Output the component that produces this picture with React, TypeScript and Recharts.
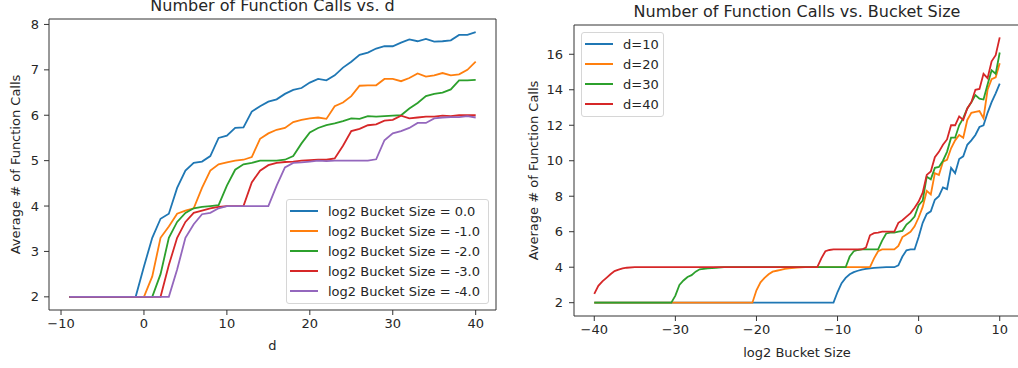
import { LineChart, Line, XAxis, YAxis, Legend, ReferenceLine } from 'recharts'

const FONT = '"DejaVu Sans", sans-serif'
const INK = '#262626'
const COLORS = ['#1f77b4', '#ff7f0e', '#2ca02c', '#d62728', '#9467bd']

// left chart: average calls vs d, one line per log2 bucket size
const dValues = [
  -9, -8, -7, -6, -5, -4, -3, -2, -1, 0, 1, 2, 3, 4, 5, 6, 7, 8, 9, 10, 11, 12, 13, 14, 15, 16, 17, 18, 19, 20,
  21, 22, 23, 24, 25, 26, 27, 28, 29, 30, 31, 32, 33, 34, 35, 36, 37, 38, 39, 40,
]
const callsBs0 = [
  2, 2, 2, 2, 2, 2, 2, 2, 2,
  2.67, 3.3, 3.72, 3.83, 4.4, 4.78, 4.95, 4.98, 5.1, 5.5,
  5.55, 5.72, 5.73, 6.08, 6.2, 6.3, 6.35, 6.47, 6.56, 6.6,
  6.72, 6.8, 6.77, 6.88, 7.05, 7.18, 7.33, 7.38, 7.47, 7.52,
  7.52, 7.6, 7.67, 7.63, 7.68, 7.62, 7.63, 7.65, 7.77, 7.77,
  7.83,
]
const callsBsM1 = [
  2, 2, 2, 2, 2, 2, 2, 2, 2, 2,
  2.45, 3.3, 3.55, 3.83, 3.9, 3.95, 4.4, 4.78, 4.92,
  4.96, 5.0, 5.02, 5.08, 5.48, 5.6, 5.68, 5.72, 5.85, 5.9,
  5.93, 5.95, 5.92, 6.2, 6.28, 6.42, 6.65, 6.66, 6.66, 6.8,
  6.8, 6.75, 6.82, 6.92, 6.85, 6.88, 6.93, 6.88, 6.9, 7.0,
  7.18,
]
const callsBsM2 = [
  2, 2, 2, 2, 2, 2, 2, 2, 2, 2, 2,
  2.5, 3.3, 3.65, 3.85, 3.95, 3.98, 4.0, 4.02,
  4.45, 4.8, 4.92, 4.95, 5.0, 5.0, 5.0, 5.02, 5.1, 5.38,
  5.62, 5.72, 5.78, 5.82, 5.87, 5.93, 5.92, 5.98, 5.97, 5.98,
  5.99, 6.0, 6.15, 6.27, 6.42, 6.47, 6.5, 6.57, 6.77, 6.77,
  6.78,
]
const callsBsM3 = [
  2, 2, 2, 2, 2, 2, 2, 2, 2, 2, 2, 2,
  2.7, 3.3, 3.65, 3.85, 3.9, 3.95, 3.98,
  4.0, 4.0, 4.0, 4.52, 4.78, 4.9, 4.95, 4.97, 4.98, 5.0,
  5.01, 5.02, 5.02, 5.05, 5.33, 5.65, 5.7, 5.78, 5.8, 5.88,
  5.9, 5.99, 5.93, 5.95, 5.97, 5.97, 5.99, 5.98, 6.0, 6.0,
  6.0,
]
const callsBsM4 = [
  2, 2, 2, 2, 2, 2, 2, 2, 2, 2, 2, 2, 2,
  2.6, 3.3, 3.6, 3.82, 3.85, 3.95,
  4.0, 4.0, 4.0, 4.0, 4.0, 4.0, 4.45, 4.85, 4.95, 4.96,
  4.98, 5.0, 4.99, 5.0, 5.0, 5.0, 5.0, 5.0, 5.03, 5.45,
  5.6, 5.65, 5.72, 5.83, 5.83, 5.93, 5.95, 5.96, 5.96, 5.98,
  5.95,
]
const leftNames = [
  'log2 Bucket Size = 0.0',
  'log2 Bucket Size = -1.0',
  'log2 Bucket Size = -2.0',
  'log2 Bucket Size = -3.0',
  'log2 Bucket Size = -4.0',
]
const leftXTicks = [-10, 0, 10, 20, 30, 40]
const leftYTicks = [2, 3, 4, 5, 6, 7, 8]

// right chart: average calls vs log2 bucket size, one line per d
const bucketD10 = [-40, -10.5, -10, -9.5, -9, -8.5, -8, -7.5, -7, -6.5, -6, -5.5, -5, -4, -3, -2.5, -2, -1.5, -1, -0.5, 0, 0.5, 1, 1.5, 2, 2.5, 3, 3.5, 4, 4.5, 5, 5.5, 6, 6.5, 7, 7.5, 8, 8.5, 9, 9.5, 10]
const callsD10 = [2, 2, 2.6, 3.1, 3.4, 3.6, 3.72, 3.8, 3.86, 3.9, 3.94, 3.96, 3.98, 4.0, 4.0, 4.1, 4.6, 4.95, 5.0, 5.0, 5.7, 6.5, 7.0, 7.15, 7.8, 8.0, 8.5, 8.4, 9.6, 9.3, 10.1, 10.25, 10.9, 11.15, 11.45, 11.9, 12.0, 12.7, 13.3, 13.8, 14.35]
const bucketD20 = [-40, -20.5, -20, -19.5, -19, -18.5, -18, -17.5, -17, -16.5, -16, -15, -14, -6, -5.5, -5, -4.5, -3, -2.5, -2, -1.5, -1, -0.5, 0, 0.5, 1, 1.5, 2, 2.5, 3, 3.5, 4, 4.5, 5, 5.5, 6, 6.5, 7, 7.5, 8, 8.5, 9, 9.5, 10]
const callsD20 = [2, 2, 2.7, 3.15, 3.4, 3.6, 3.75, 3.8, 3.85, 3.9, 3.94, 3.98, 4.0, 4.0, 4.5, 4.9, 5.0, 5.0, 5.2, 5.7, 5.85, 6.0, 6.3, 6.8, 7.4, 8.3, 8.1, 9.3, 9.2, 9.95, 10.05, 10.7, 11.15, 11.45, 11.3, 12.3, 12.7, 12.75, 12.8, 12.4, 14.0, 14.6, 14.7, 15.5]
const bucketD30 = [-40, -30.5, -30, -29.5, -29, -28.5, -28, -27.5, -27, -26, -25, -24, -9, -8.5, -8, -7.5, -7, -5, -4.5, -4, -3.5, -3, -2.5, -2, -1.5, -1, -0.5, 0, 0.5, 1, 1.5, 2, 2.5, 3, 3.5, 4, 4.5, 5, 5.5, 6, 6.5, 7, 7.5, 8, 8.5, 9, 9.5, 10]
const callsD30 = [2, 2, 2.4, 3.0, 3.25, 3.45, 3.55, 3.75, 3.88, 3.93, 3.97, 4.0, 4.0, 4.6, 4.9, 4.97, 5.0, 5.0, 5.5, 5.9, 5.95, 5.95, 6.0, 6.05, 6.4, 6.6, 6.85, 7.5, 7.75, 9.1, 8.95, 9.6, 9.65, 10.0, 10.5, 11.3, 11.3, 12.0, 12.4, 12.95, 13.3, 13.7, 13.5, 13.45, 14.3, 15.1, 14.9, 16.1]
const bucketD40 = [-40, -39.5, -39, -38.5, -38, -37.5, -37, -36.5, -36, -35, -12.5, -12, -11.5, -11, -10.5, -7, -6.5, -6, -5.5, -5, -4.5, -3, -2.5, -2, -1.5, -1, -0.5, 0, 0.5, 1, 1.5, 2, 2.5, 3, 3.5, 4, 4.5, 5, 5.5, 6, 6.5, 7, 7.5, 8, 8.5, 9, 9.5, 10]
const callsD40 = [2.5, 2.95, 3.2, 3.4, 3.6, 3.78, 3.86, 3.93, 3.97, 4.0, 4.0, 4.5, 4.9, 4.97, 5.0, 5.0, 5.1, 5.8, 5.92, 5.95, 6.0, 6.0, 6.5, 6.65, 6.85, 7.05, 7.35, 7.7, 8.2, 9.2, 9.4, 10.2, 10.5, 10.9, 11.2, 12.0, 12.0, 12.5, 12.3, 12.95, 13.3, 14.0, 14.05, 14.9, 14.65, 15.6, 15.95, 16.95]
const rightNames = ['d=10', 'd=20', 'd=30', 'd=40']
const rightXTicks = [-40, -30, -20, -10, 0, 10]
const rightYTicks = [2, 4, 6, 8, 10, 12, 14, 16]

const leftDomainX = [-11.45, 42.45]
const leftDomainY = [1.71, 8.12]
const rightDomainX = [-42.5, 12.5]
const rightDomainY = [1.25, 17.65]

const leftSeries = [callsBs0, callsBsM1, callsBsM2, callsBsM3, callsBsM4]
const leftRows = dValues.map((d, i) => {
  const row: Record<string, number> = { d }
  leftSeries.forEach((s, k) => (row['s' + k] = s[i]))
  return row
})
const rightSeries = [
  [bucketD10, callsD10],
  [bucketD20, callsD20],
  [bucketD30, callsD30],
  [bucketD40, callsD40],
].map(([xs, ys]) => xs.map((x, i) => ({ x, y: ys[i] })))

const fmt = (v: number) => (v < 0 ? '\u2212' + Math.abs(v) : String(v))
const tickStyle = { fill: INK, fontSize: 13, fontFamily: FONT }
const axisLine = { stroke: '#333', strokeWidth: 1 }

function LegendBox({ payload, order, pad }: { payload?: any[]; order: string[]; pad: string }) {
  const items = order
    .map((name) => (payload || []).find((p) => p.value === name))
    .filter(Boolean)
  return (
    <div
      style={{
        border: '1px solid #d6d6d6',
        borderRadius: 3,
        background: 'rgba(255,255,255,0.85)',
        padding: pad,
        fontFamily: FONT,
        fontSize: 13,
        color: INK,
      }}
    >
      {items.map((p: any) => (
        <div key={p.value} style={{ display: 'flex', alignItems: 'center', height: 20 }}>
          <span style={{ width: 28, height: 2, background: p.color, marginRight: 10 }} />
          <span>{p.value}</span>
        </div>
      ))}
    </div>
  )
}

const titleStyle = (left: number, top: number, width: number) => ({
  position: 'absolute' as const,
  left,
  top,
  width,
  textAlign: 'center' as const,
  fontFamily: FONT,
  fontSize: 16,
  lineHeight: '16px',
  color: INK,
  whiteSpace: 'nowrap' as const,
})

export default function App() {
  return (
    <div style={{ position: 'fixed', left: 0, top: 0, width: 1018, height: 368, overflow: 'hidden', background: '#fff' }}>
      <div style={titleStyle(49, -2, 447)}>Number of Function Calls vs. d</div>
      <div style={titleStyle(574, 4, 446)}>Number of Function Calls vs. Bucket Size</div>

      <div style={{ position: 'absolute', left: 0, top: 0 }}>
        <LineChart width={500} height={368} data={leftRows} margin={{ top: 19, right: 4, left: 0, bottom: 16 }} style={{ fontFamily: FONT }}>
          <XAxis
            dataKey="d"
            type="number"
            domain={leftDomainX}
            ticks={leftXTicks}
            tickFormatter={fmt}
            tick={tickStyle}
            tickSize={5}
            tickMargin={4}
            height={42}
            axisLine={axisLine}
            tickLine={axisLine}
            allowDataOverflow
            label={{ value: 'd', position: 'insideBottom', offset: 2, fill: INK, fontSize: 13 }}
          />
          <YAxis
            type="number"
            domain={leftDomainY}
            ticks={leftYTicks}
            tick={tickStyle}
            tickSize={5}
            tickMargin={5}
            width={49}
            axisLine={axisLine}
            tickLine={axisLine}
            allowDataOverflow
            label={{ value: 'Average # of Function Calls', angle: -90, position: 'insideLeft', offset: 15, fill: INK, fontSize: 13, style: { textAnchor: 'middle' } }}
          />
          <ReferenceLine y={leftDomainY[1]} stroke="#333" strokeWidth={1} />
          <ReferenceLine x={leftDomainX[1]} stroke="#333" strokeWidth={1} />
          <Legend
            layout="horizontal"
            verticalAlign="middle"
            align="center"
            wrapperStyle={{ left: 286, top: 199, width: 203, right: 'auto', bottom: 'auto' }}
            content={(props: any) => <LegendBox payload={props.payload} order={leftNames} pad="1px 6px 2px 3px" />}
          />
          {leftSeries.map((_, k) => (
            <Line
              key={k}
              type="linear"
              dataKey={'s' + k}
              name={leftNames[k]}
              stroke={COLORS[k]}
              strokeWidth={1.8}
              dot={false}
              isAnimationActive={false}
            />
          ))}
        </LineChart>
      </div>

      <div style={{ position: 'absolute', left: 500, top: 0 }}>
        <LineChart width={522} height={368} margin={{ top: 25, right: 2, left: 0, bottom: 10 }} style={{ fontFamily: FONT }}>
          <XAxis
            dataKey="x"
            type="number"
            domain={rightDomainX}
            ticks={rightXTicks}
            tickFormatter={fmt}
            tick={tickStyle}
            tickSize={5}
            tickMargin={4}
            height={42}
            axisLine={axisLine}
            tickLine={axisLine}
            allowDataOverflow
            label={{ value: 'log2 Bucket Size', position: 'insideBottom', offset: 1, fill: INK, fontSize: 13 }}
          />
          <YAxis
            type="number"
            domain={rightDomainY}
            ticks={rightYTicks}
            tick={tickStyle}
            tickSize={5}
            tickMargin={6}
            width={74}
            axisLine={axisLine}
            tickLine={axisLine}
            allowDataOverflow
            label={{ value: 'Average # of Function Calls', angle: -90, position: 'insideLeft', offset: 33, fill: INK, fontSize: 13, style: { textAnchor: 'middle' } }}
          />
          <ReferenceLine y={rightDomainY[1]} stroke="#333" strokeWidth={1} />
          <ReferenceLine x={rightDomainX[1]} stroke="#333" strokeWidth={1} />
          <Legend
            layout="horizontal"
            verticalAlign="middle"
            align="center"
            wrapperStyle={{ left: 81, top: 32, width: 83, right: 'auto', bottom: 'auto' }}
            content={(props: any) => <LegendBox payload={props.payload} order={rightNames} pad="1px 4px 2px 3px" />}
          />
          {rightSeries.map((pts, k) => (
            <Line
              key={k}
              data={pts}
              type="linear"
              dataKey="y"
              name={rightNames[k]}
              stroke={COLORS[k]}
              strokeWidth={1.8}
              dot={false}
              isAnimationActive={false}
            />
          ))}
        </LineChart>
      </div>
    </div>
  )
}
